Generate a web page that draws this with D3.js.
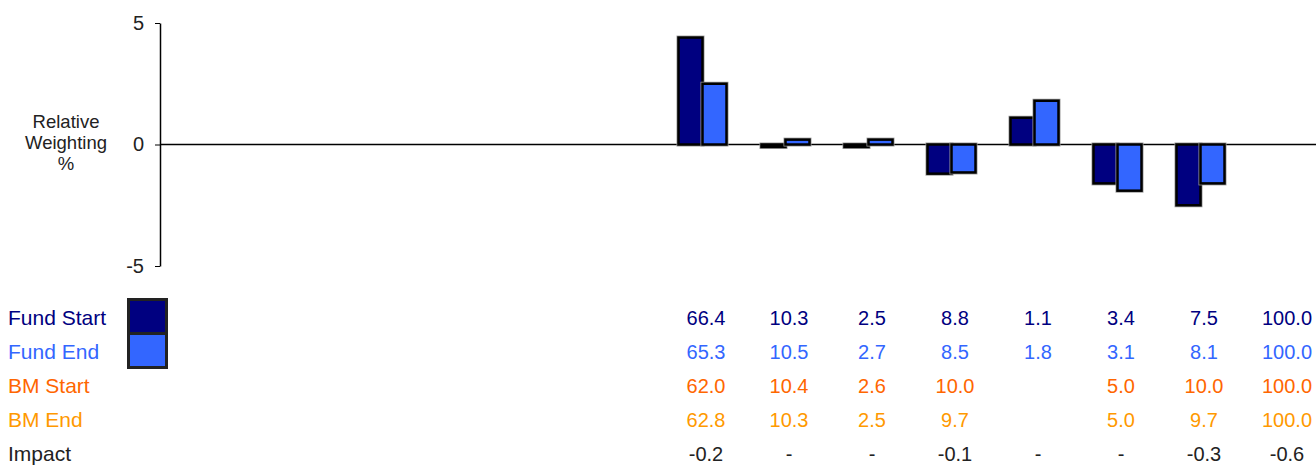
<!DOCTYPE html>
<html>
<head>
<meta charset="utf-8">
<script src="https://cdn.jsdelivr.net/npm/d3@7"></script>
<style>
  body { margin: 0; background: #fff; }
  svg { display: block; font-family: "Liberation Sans", Arial, sans-serif; }
</style>
</head>
<body>
<div id="chart"></div>
<script>
// columns (names are not printed on the chart)
var columns = ["Sector 1", "Sector 2", "Sector 3", "Sector 4", "Sector 5", "Sector 6", "Sector 7", "Total"];

// relative weighting bars (fund minus benchmark)
var relStart = [4.4, -0.1, -0.1, -1.2, 1.1, -1.6, -2.5, null];
var relEnd   = [2.5, 0.2, 0.2, -1.15, 1.8, -1.9, -1.6, null];

// table rows
var rowNames = ["Fund Start", "Fund End", "BM Start", "BM End", "Impact"];
var fundStart = ["66.4", "10.3", "2.5", "8.8", "1.1", "3.4", "7.5", "100.0"];
var fundEnd   = ["65.3", "10.5", "2.7", "8.5", "1.8", "3.1", "8.1", "100.0"];
var bmStart   = ["62.0", "10.4", "2.6", "10.0", "", "5.0", "10.0", "100.0"];
var bmEnd     = ["62.8", "10.3", "2.5", "9.7", "", "5.0", "9.7", "100.0"];
var impact    = ["-0.2", "-", "-", "-0.1", "-", "-", "-0.3", "-0.6"];

var yTicks = [-5, 0, 5];

var fullWidth = 1316;
var fullHeight = 466;

var colors = {
  fundStart: "#000080",
  fundEnd: "#3366ff",
  bmStart: "#ff6600",
  bmEnd: "#ff9900",
  impact: "#222222"
};

var svg = d3.select("#chart")
  .append("svg")
  .attr("width", fullWidth)
  .attr("height", fullHeight);

var axisX = 160;
var yScale = d3.scaleLinear().domain([-5, 5]).range([266, 23]);
var xScale = d3.scaleBand().domain(columns).range([661, 1325]).padding(0);
var barW = 24;

// zero line
svg.append("line")
  .attr("x1", axisX).attr("x2", fullWidth)
  .attr("y1", yScale(0)).attr("y2", yScale(0))
  .attr("stroke", "#000").attr("stroke-width", 1.5);

// y axis
var yAxis = d3.axisLeft(yScale).tickValues(yTicks).tickSizeInner(5).tickSizeOuter(0).tickPadding(11)
  .tickFormat(function(d) { return String(d); });
var gy = svg.append("g")
  .attr("transform", "translate(" + axisX + ",0)")
  .call(yAxis);
gy.select(".domain").attr("stroke", "#000").attr("stroke-width", 1.5);
gy.selectAll(".tick line").attr("stroke", "#000");
gy.selectAll(".tick text")
  .attr("font-size", 20)
  .attr("font-family", "Liberation Sans, Arial, sans-serif")
  .attr("fill", "#222");

// axis title
var title = svg.append("text")
  .attr("text-anchor", "middle")
  .attr("font-size", 18.5)
  .attr("fill", "#222");
["Relative", "Weighting", "%"].forEach(function(t, i) {
  title.append("tspan").attr("x", 66).attr("y", 128 + i * 21).text(t);
});

// bars
function drawBars(vals, offset, fill) {
  var data = vals.map(function(v, i) { return { c: columns[i], v: v }; })
    .filter(function(d) { return d.v !== null; });
  var g = svg.append("g");
  function attrs(sel) {
    sel.attr("x", function(d) { return xScale(d.c) + xScale.bandwidth() / 2 + offset; })
      .attr("y", function(d) { return Math.min(yScale(d.v), yScale(0)); })
      .attr("width", barW)
      .attr("height", function(d) { return Math.abs(yScale(d.v) - yScale(0)); });
  }
  g.selectAll("rect.halo").data(data).enter().append("rect").attr("class", "halo")
    .call(attrs).attr("fill", "none").attr("stroke", "#999").attr("stroke-width", 4);
  g.selectAll("rect.bar").data(data).enter().append("rect").attr("class", "bar")
    .call(attrs).attr("fill", fill).attr("stroke", "#000").attr("stroke-width", 2.5);
}
drawBars(relStart, -barW, colors.fundStart);
drawBars(relEnd, 0, colors.fundEnd);

// table
var rows = [
  { name: rowNames[0], vals: fundStart, color: colors.fundStart },
  { name: rowNames[1], vals: fundEnd, color: colors.fundEnd },
  { name: rowNames[2], vals: bmStart, color: colors.bmStart },
  { name: rowNames[3], vals: bmEnd, color: colors.bmEnd },
  { name: rowNames[4], vals: impact, color: colors.impact }
];
var rowY = function(i) { return 324.5 + i * 34; };

rows.forEach(function(r, i) {
  svg.append("text")
    .attr("x", 8).attr("y", rowY(i))
    .attr("font-size", 21).attr("fill", r.color)
    .text(r.name);
  svg.selectAll(null).data(r.vals).enter().append("text")
    .attr("x", function(d, j) { return xScale(columns[j]) + xScale.bandwidth() / 2 + 3.5; })
    .attr("y", rowY(i))
    .attr("text-anchor", "middle")
    .attr("font-size", 20).attr("fill", r.color)
    .text(function(d) { return d; });
});

// legend swatches
[colors.fundStart, colors.fundEnd].forEach(function(c, i) {
  svg.append("rect")
    .attr("x", 128.5).attr("y", 299.5 + i * 34)
    .attr("width", 38).attr("height", 34)
    .attr("fill", c).attr("stroke", "#222").attr("stroke-width", 3);
});
</script>
</body>
</html>
